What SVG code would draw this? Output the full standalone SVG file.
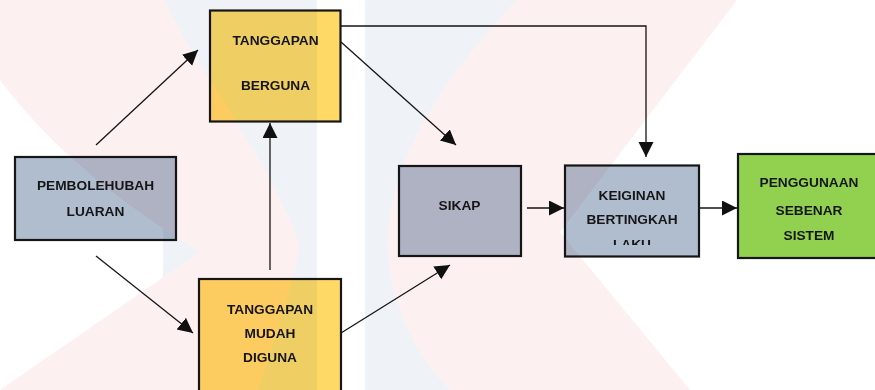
<svg xmlns="http://www.w3.org/2000/svg" width="875" height="390" viewBox="0 0 875 390">
<style>
.box{stroke:#161616;stroke-width:2.2}
.t{font-family:"Liberation Sans",Arial,sans-serif;font-weight:bold;font-size:13.7px;fill:#161616;text-anchor:middle}
.c{fill:none;stroke:#161616;stroke-width:1.3}
</style>
<defs>
<marker id="ah" markerUnits="userSpaceOnUse" markerWidth="16" markerHeight="16" refX="15" refY="7.5" orient="auto">
<path d="M0,0 L15,7.5 L0,15 Z" fill="#111"/>
</marker>
<clipPath id="clipK"><rect x="565" y="165" width="134" height="80"/></clipPath>
</defs>
<rect width="875" height="390" fill="#ffffff"/>

<g id="connectors">
<path class="c" d="M96,145 L198,50" marker-end="url(#ah)"/>
<path class="c" d="M96,256 L193,333" marker-end="url(#ah)"/>
<path class="c" d="M270,270 L270,123" marker-end="url(#ah)"/>
<path class="c" d="M341,42 L456,145" marker-end="url(#ah)"/>
<path class="c" d="M341,26 L646,26 L646,157" marker-end="url(#ah)"/>
<path class="c" d="M341,333 L450,265" marker-end="url(#ah)"/>
<path class="c" d="M527,208 L564,208" marker-end="url(#ah)"/>
<path class="c" d="M700,208 L737,208" marker-end="url(#ah)"/>
</g>

<g id="tanggapan-berguna">
<rect class="box" x="210" y="10.5" width="130.5" height="111" fill="#FFD966"/>
<text class="t" x="275.5" y="44.5">TANGGAPAN</text>
<text class="t" x="275.5" y="90">BERGUNA</text>
</g>

<g id="pembolehubah-luaran">
<rect class="box" x="15" y="157" width="161" height="83" fill="#B0BDCE"/>
<text class="t" x="95.5" y="190">PEMBOLEHUBAH</text>
<text class="t" x="95.5" y="215.5">LUARAN</text>
</g>

<g id="tanggapan-mudah-diguna">
<rect class="box" x="199" y="279" width="142" height="130" fill="#FFD966"/>
<text class="t" x="270" y="313.5">TANGGAPAN</text>
<text class="t" x="270" y="338">MUDAH</text>
<text class="t" x="270" y="362">DIGUNA</text>
</g>

<g id="sikap">
<rect class="box" x="399" y="166" width="122" height="90" fill="#B0BDCE"/>
<text class="t" x="459.5" y="210">SIKAP</text>
</g>

<g id="keiginan-bertingkah-laku">
<rect class="box" x="565" y="165.5" width="134" height="91" fill="#B0BDCE"/>
<text class="t" x="632" y="199.5">KEIGINAN</text>
<text class="t" x="632" y="223.5">BERTINGKAH</text>
<text class="t" x="632" y="248.5" clip-path="url(#clipK)">LAKU</text>
</g>

<g id="penggunaan-sebenar-sistem">
<rect class="box" x="738" y="154" width="150" height="104" fill="#92D050"/>
<text class="t" x="809" y="187">PENGGUNAAN</text>
<text class="t" x="809" y="214.5">SEBENAR</text>
<text class="t" x="809" y="240">SISTEM</text>
</g>

<g id="watermark" style="mix-blend-mode:multiply">
<rect x="163" y="0" width="154" height="390" fill="#EFF3F8"/>
<rect x="365" y="0" width="152" height="390" fill="#EFF3F8"/>
<path d="M0,0 L165,0 C195,70 260,140 300,245 C290,300 270,350 258,390 L0,390 L200,252 C140,215 60,160 0,80 Z" fill="#FDF0F0"/>
<path d="M517,0 C450,70 385,160 388,250 C390,310 420,360 450,390 L690,390 L560,232 L737,0 Z" fill="#FDF0F0"/>
</g>
</svg>
